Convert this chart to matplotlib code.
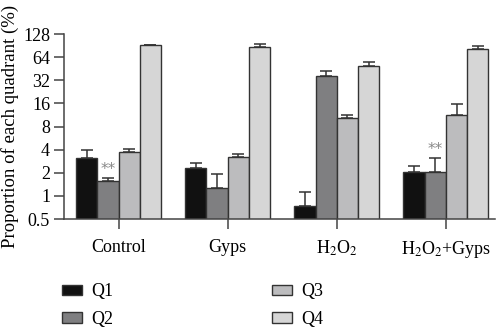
import numpy as np
import matplotlib.pyplot as plt

plt.rcParams['font.family'] = ['Liberation Serif', 'DejaVu Serif']
plt.rcParams['mathtext.fontset'] = 'stix'

groups = ['Control', 'Gyps', r'H$_2$O$_2$', r'H$_2$O$_2$+Gyps']
series = ['Q1', 'Q2', 'Q3', 'Q4']
q1 = [3.15, 2.33, 0.74, 2.06]
q2 = [1.57, 1.27, 36.0, 2.06]
q3 = [3.76, 3.25, 10.5, 11.2]
q4 = [92.0, 86.0, 49.0, 81.6]
# upper error bar tops
q1_top = [4.0, 2.7, 1.13, 2.47]
q2_top = [1.72, 1.95, 43.0, 3.15]
q3_top = [4.1, 3.55, 11.2, 15.6]
q4_top = [93.5, 95.0, 55.0, 89.0]
yticks = [0.5, 1, 2, 4, 8, 16, 32, 64, 128]
ytick_labels = ['0.5', '1', '2', '4', '8', '16', '32', '64', '128']
# significance marks: (group index, series index)
stars = [(0, 1), (3, 1)]

colors = ['#111111', '#7f7f81', '#bcbcbe', '#d6d6d6']
values = [q1, q2, q3, q4]
tops = [q1_top, q2_top, q3_top, q4_top]

fig = plt.figure(figsize=(5, 3.28), dpi=100)
ax = fig.add_axes([0.128, 0.332, 0.862, 0.564])

x = np.arange(len(groups))
w = 0.195
handles = []
for i, (vals, tp, c) in enumerate(zip(values, tops, colors)):
    pos = x + (i - 1.5) * w
    vals = np.array(vals)
    err = np.array(tp) - vals
    b = ax.bar(pos, vals, width=w, color=c, edgecolor='#333333', linewidth=1.0,
               label=series[i], zorder=2)
    ax.errorbar(pos, vals, yerr=[np.zeros_like(err), err], fmt='none',
                ecolor='#333333', elinewidth=1.1, capsize=4, capthick=1.1, zorder=1)
    handles.append(b)

for g, s in stars:
    px = x[g] + (s - 1.5) * w
    ax.text(px, tops[s][g] * 1.02, '**', ha='center', va='bottom', fontsize=11,
            color='#888888', family='DejaVu Sans')

ax.set_yscale('log', base=2)
ax.set_ylim(0.5, 128)
ax.set_yticks(yticks)
ax.set_yticklabels(ytick_labels)
ax.minorticks_off()
ax.set_xlim(-0.5, 3.45)
ax.set_xticks(x)
ax.set_xticklabels(groups)
ax.tick_params(axis='both', labelsize=13, color='#444444', width=1.1, length=7)
ax.tick_params(axis='x', pad=7)
ax.tick_params(axis='y', pad=3)
ax.set_ylabel('Proportion of each quadrant (%)', fontsize=13.5, labelpad=3)
for sp in ['top', 'right']:
    ax.spines[sp].set_visible(False)
for sp in ['left', 'bottom']:
    ax.spines[sp].set_color('#444444')
    ax.spines[sp].set_linewidth(1.1)

fig.legend(handles=handles, labels=series, ncol=2, loc='upper left',
           bbox_to_anchor=(0.11, 0.158), frameon=False, fontsize=13,
           handlelength=1.1, handleheight=0.55, handletextpad=0.5,
           columnspacing=8.8, labelspacing=0.6, borderaxespad=0)

fig.savefig('out.png', dpi=100)
